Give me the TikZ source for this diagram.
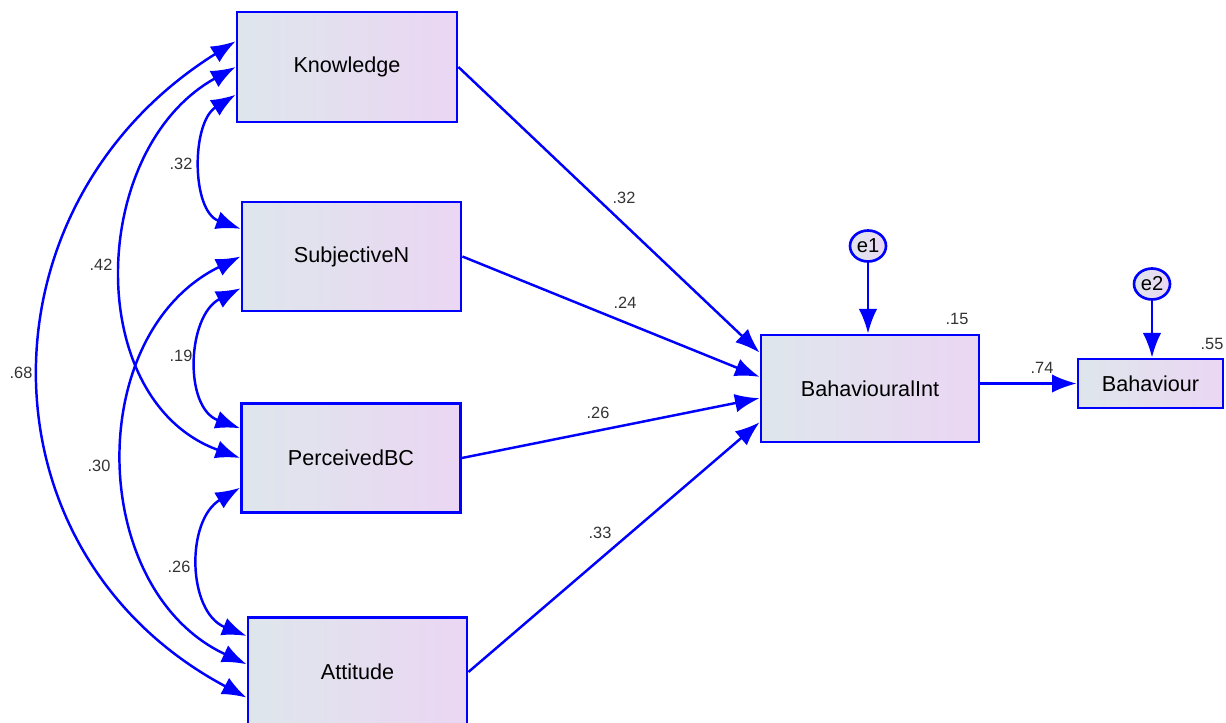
\documentclass[tikz,border=0pt]{standalone}
\usepackage{fontspec}
\setmainfont{Liberation Sans}
\usetikzlibrary{arrows.meta,shapes.geometric}

\definecolor{boxleft}{RGB}{222,230,236}
\definecolor{boxright}{RGB}{235,214,243}
\definecolor{semblue}{RGB}{0,0,255}

\tikzset{
  obsvar/.style={draw=semblue, line width=1.6pt, left color=boxleft, right color=boxright,
    minimum width=4.38cm, minimum height=2.18cm, inner sep=0pt, font=\fontsize{12.3}{15}\selectfont},
  errvar/.style={ellipse, draw=semblue, line width=1.5pt, left color=boxleft, right color=boxright,
    minimum width=0.72cm, minimum height=0.62cm, inner sep=0pt, font=\fontsize{11.5}{14}\selectfont},
  regpath/.style={draw=semblue, line width=1.4pt, -{Latex[length=14pt,width=10.5pt]}},
  covpath/.style={draw=semblue, line width=1.4pt, looseness=1.1,
    {Latex[length=14pt,width=10.5pt]}-{Latex[length=14pt,width=10.5pt]}},
  coef/.style={font=\fontsize{9.3}{11}\selectfont, text=black!80, inner sep=0pt}
}

\begin{document}
\begin{tikzpicture}
\useasboundingbox (0,0) rectangle (24.52,-14.44);

% observed variables
\node[obsvar, minimum width=4.4cm, minimum height=2.2cm] (know) at (6.94,-1.34) {Knowledge};
\node[obsvar] (subj) at (7.03,-5.13) {SubjectiveN};
\node[obsvar] (perc) at (7.02,-9.16) {PerceivedBC};
\node[obsvar] (att) at (7.15,-13.44) {Attitude};
\node[obsvar, minimum width=4.36cm, minimum height=2.14cm] (bint) at (17.40,-7.77) {BahaviouralInt};
\node[obsvar, minimum width=2.9cm, minimum height=0.98cm] (beh) at (23.01,-7.67) {Bahaviour};

% error terms
\node[errvar] (e1) at (17.36,-4.92) {e1};
\node[errvar] (e2) at (23.04,-5.68) {e2};

% covariances
\draw[covpath] (know.194) to[out=212,in=160,looseness=1.0] (subj.166);
\draw[covpath] (know.west) to[out=209,in=160,looseness=1.1] (perc.west);
\draw[covpath] (know.167) to[out=212,in=152,looseness=1.2] (att.193);
\draw[covpath] (subj.196) to[out=207,in=160,looseness=1.1] (perc.165);
\draw[covpath] (subj.west) to[out=206,in=155,looseness=1.1] (att.176);
\draw[covpath] (perc.195) to[out=211,in=158,looseness=1.1] (att.162);

% regressions
\draw[regpath] (know.east) -- (bint.162);
\draw[regpath] (subj.east) -- (bint.174);
\draw[regpath] (perc.east) -- (bint.185);
\draw[regpath] (att.east) -- (bint.197);
\draw[regpath] (bint.east |- beh.west) -- (beh.west);
\draw[regpath] (e1) -- (e1 |- bint.north);
\draw[regpath] (e2) -- (e2 |- beh.north);

% estimates
\node[coef] (c32) at (3.62,-3.28) {.32};
\node[coef] (c42) at (2.02,-5.30) {.42};
\node[coef] (c68) at (0.42,-7.46) {.68};
\node[coef] (c19) at (3.62,-7.12) {.19};
\node[coef] (c30) at (1.98,-9.32) {.30};
\node[coef] (c26) at (3.58,-11.34) {.26};
\node[coef] (b32) at (12.48,-3.96) {.32};
\node[coef] (b24) at (12.50,-6.06) {.24};
\node[coef] (b26) at (11.96,-8.26) {.26};
\node[coef] (b33) at (12.00,-10.66) {.33};
\node[coef] (b74) at (20.84,-7.36) {.74};
\node[coef] (r15) at (19.14,-6.38) {.15};
\node[coef] (r55) at (24.24,-6.88) {.55};

\end{tikzpicture}
\end{document}
